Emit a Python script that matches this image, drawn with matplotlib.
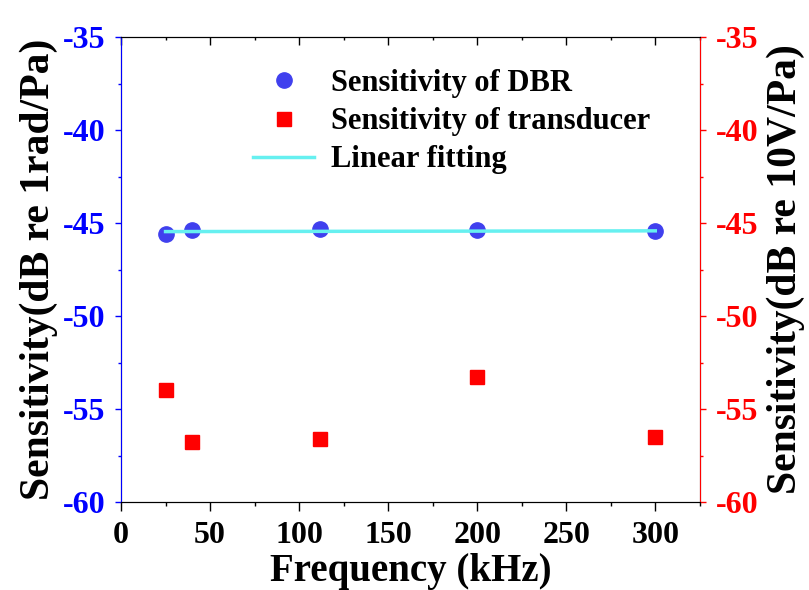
import numpy as np
import matplotlib
matplotlib.use('Agg')
import matplotlib.pyplot as plt
from matplotlib.ticker import MultipleLocator

# Data
freq_khz = [25, 40, 112, 200, 300]
dbr_sens = [-45.59, -45.38, -45.30, -45.39, -45.45]
trans_sens = [-53.96, -56.75, -56.63, -53.27, -56.48]
fit_x = [25, 300]
fit_y = [-45.46, -45.42]

BLUE = '#0000ff'
MARK_BLUE = '#4040ee'
RED = '#ff0000'
CYAN = '#66f0f0'

plt.rcParams['font.family'] = ['Liberation Serif', 'DejaVu Serif']
plt.rcParams['font.weight'] = 'bold'
plt.rcParams['axes.unicode_minus'] = False

fig = plt.figure(figsize=(8.09, 5.9), dpi=100)
ax = fig.add_axes([0.1496, 0.149, 0.865 - 0.1496, 0.9373 - 0.149])
ax2 = ax.twinx()

h1, = ax.plot(freq_khz, dbr_sens, 'o', color=MARK_BLUE, markersize=11, linestyle='none')
h3, = ax.plot(fit_x, fit_y, '-', color=CYAN, linewidth=2.5)
h2, = ax2.plot(freq_khz, trans_sens, 's', color=RED, markersize=9.5, linestyle='none')

ax.set_xlim(0, 325)
ax.set_ylim(-60, -35)
ax2.set_ylim(-60, -35)

ax.xaxis.set_major_locator(MultipleLocator(50))
ax.xaxis.set_minor_locator(MultipleLocator(25))
for a in (ax, ax2):
    a.yaxis.set_major_locator(MultipleLocator(5))
    a.yaxis.set_minor_locator(MultipleLocator(2.5))

# spines
ax2.spines['left'].set_color(BLUE)
ax2.spines['right'].set_color(RED)
for s in ('top', 'bottom'):
    ax2.spines[s].set_color('black')

# ticks
ax.xaxis.set_ticks_position('both')
ax.tick_params(axis='x', which='major', direction='out', length=6.5, width=1,
               labelsize=23, colors='black', pad=7)
ax.tick_params(axis='x', which='minor', direction='out', length=3, width=1)
ax.tick_params(axis='y', which='major', direction='out', length=4.5, width=1,
               colors=BLUE, labelcolor=BLUE, labelsize=23, pad=7)
ax.tick_params(axis='y', which='minor', direction='out', length=2.5, width=1, colors=BLUE)
ax2.tick_params(axis='y', which='major', direction='out', length=4.5, width=1,
                colors=RED, labelcolor=RED, labelsize=23, pad=7)
ax2.tick_params(axis='y', which='minor', direction='out', length=2.5, width=1, colors=RED)

# top ticks point inward
for t in ax.xaxis.get_major_ticks():
    t.tick2line.set_marker(3)
    t.tick2line.set_markersize(6)
for t in ax.xaxis.get_minor_ticks():
    t.tick2line.set_marker(3)
    t.tick2line.set_markersize(2.5)

for lab in ax.get_xticklabels() + ax.get_yticklabels() + ax2.get_yticklabels():
    lab.set_fontweight('bold')

ax.set_xlabel('Frequency (kHz)', fontsize=28, fontweight='bold', labelpad=2)
ax.set_ylabel('Sensitivity(dB re 1rad/Pa)', fontsize=30, fontweight='bold', labelpad=3)
ax2.set_ylabel('Sensitivity(dB re 10V/Pa)', fontsize=30, fontweight='bold', labelpad=6)

leg = ax.legend([h1, h2, h3], ['Sensitivity of DBR', 'Sensitivity of transducer', 'Linear fitting'],
                loc='upper left', bbox_to_anchor=(0.181, 0.99), frameon=False,
                prop={'size': 22, 'weight': 'bold'}, handlelength=2.0, labelspacing=0.3,
                handletextpad=0.55)

fig.savefig('out.png', dpi=100)
